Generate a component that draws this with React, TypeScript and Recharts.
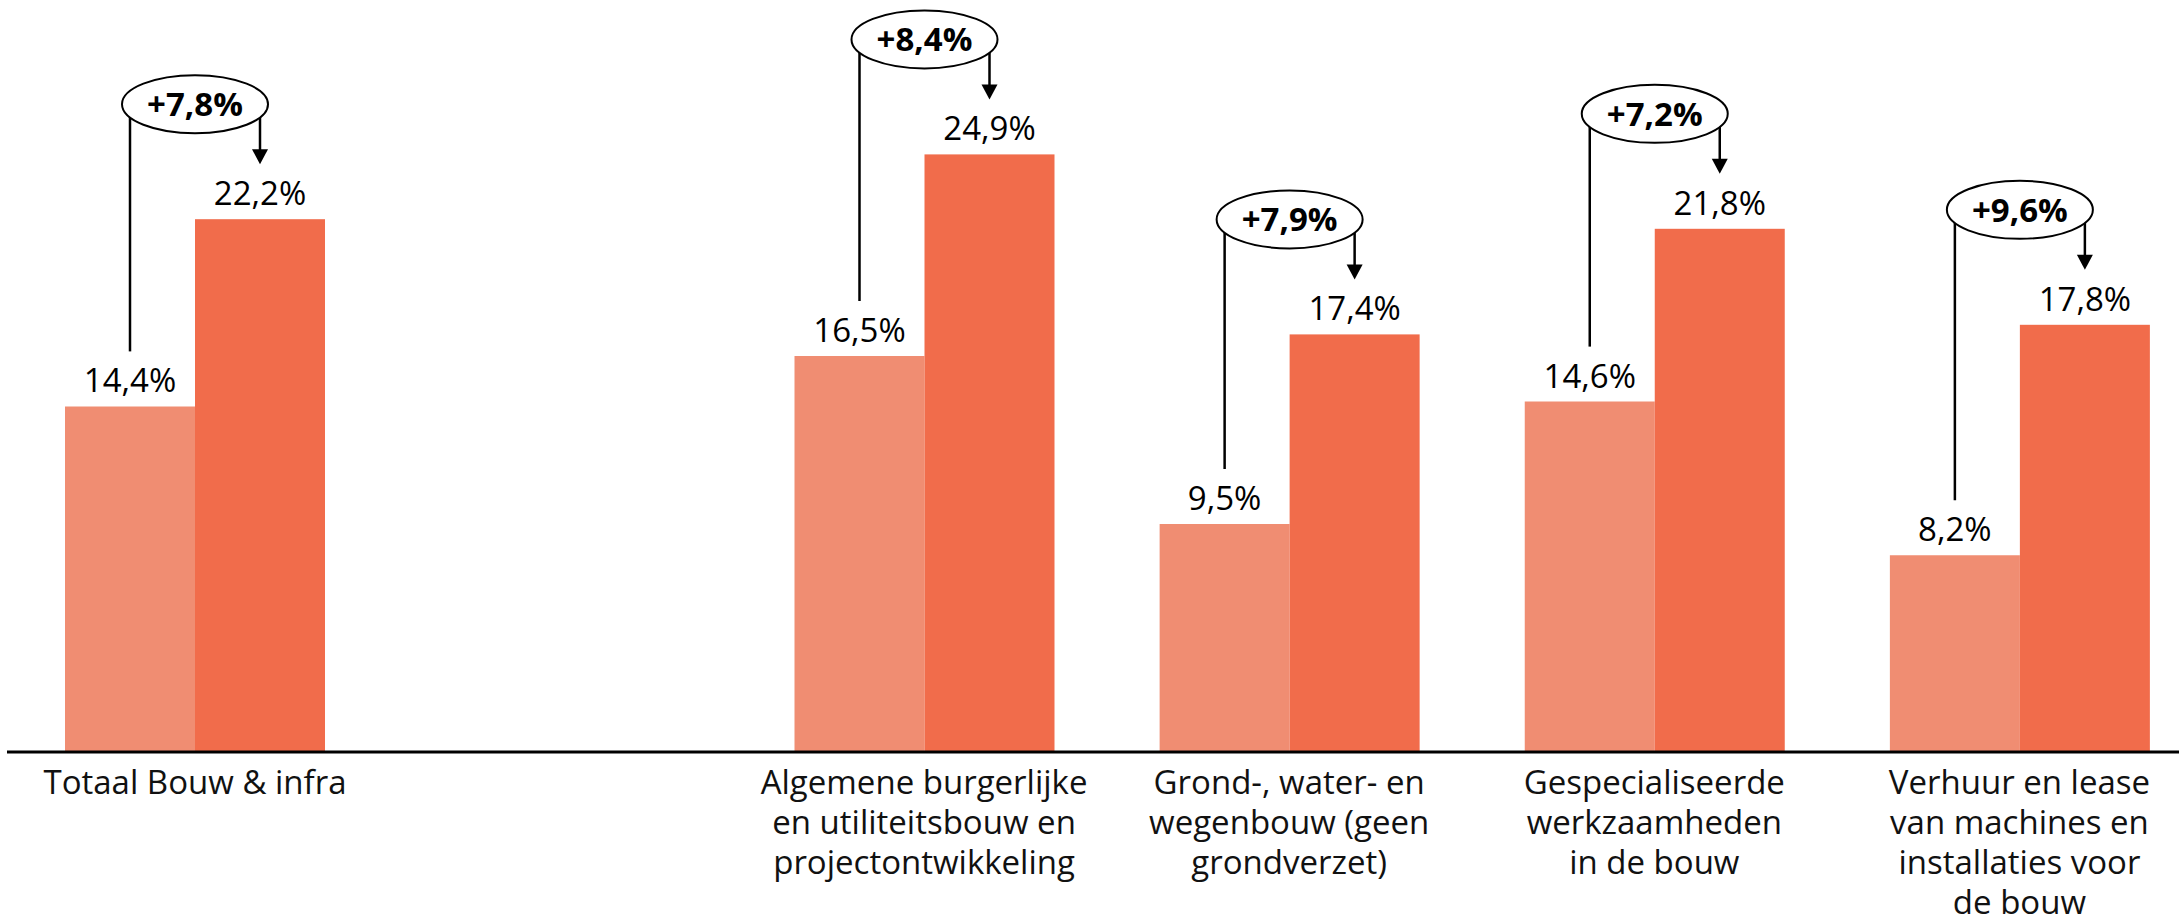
import React from 'react';
import { BarChart, Bar, XAxis, YAxis, LabelList } from 'recharts';

const categories = [
  'Totaal Bouw & infra',
  'Algemene burgerlijke\nen utiliteitsbouw en\nprojectontwikkeling',
  'Grond-, water- en\nwegenbouw (geen\ngrondverzet)',
  'Gespecialiseerde\nwerkzaamheden\nin de bouw',
  'Verhuur en lease\nvan machines en\ninstallaties voor\nde bouw',
];
const before = [14.4, 16.5, 9.5, 14.6, 8.2];
const after = [22.2, 24.9, 17.4, 21.8, 17.8];

const LIGHT = '#F08D72';
const DARK = '#F16C4B';
const FONT = '"Open Sans", sans-serif';

const rows = categories.map((name, i) => ({ name, before: before[i], after: after[i] }));

const fmt = (v: number) => v.toFixed(1).replace('.', ',') + '%';

const CategoryTick = (props: any) => {
  const { x, y, payload } = props;
  const lines = String(payload.value).split('\n');
  return (
    <text x={x} y={y + 42} textAnchor="middle" fontFamily={FONT} fontSize={33} fill="#111">
      {lines.map((l, i) => (
        <tspan key={i} x={x} dy={i === 0 ? 0 : 40}>
          {l}
        </tspan>
      ))}
    </text>
  );
};

// dark bar + the "+x,x%" bubble with its two connector lines
const DarkBar = (props: any) => {
  const { x, y, width, height, payload, fill } = props;
  const base = y + height;
  const unit = height / payload.after;
  const lightTop = base - payload.before * unit;
  const cy = y - 115;
  const leftX = x - width / 2;
  const rightX = x + width / 2;
  const tipY = y - 55;
  return (
    <g>
      <rect x={x} y={y} width={width} height={height} fill={fill} />
      <line x1={leftX} y1={cy} x2={leftX} y2={lightTop - 55} stroke="#000" strokeWidth={2.5} />
      <line x1={rightX} y1={cy} x2={rightX} y2={tipY - 12} stroke="#000" strokeWidth={2.5} />
      <polygon
        points={`${rightX - 8},${tipY - 15} ${rightX + 8},${tipY - 15} ${rightX},${tipY}`}
        fill="#000"
      />
      <ellipse cx={x} cy={cy} rx={73} ry={29} fill="#fff" stroke="#000" strokeWidth={2} />
      <text
        x={x}
        y={cy + 12}
        textAnchor="middle"
        fontFamily={FONT}
        fontWeight={700}
        fontSize={33}
        fill="#000"
      >
        +{fmt(payload.after - payload.before)}
      </text>
    </g>
  );
};

const Chart = ({ data, width, left, padLeft }: any) => (
  <BarChart
    width={width}
    height={919}
    data={data}
    margin={{ top: 32, right: 0, bottom: 17, left }}
    barGap={0}
  >
    <XAxis
      dataKey="name"
      height={150}
      axisLine={{ stroke: '#000', strokeWidth: 3 }}
      tickLine={false}
      tickSize={0}
      tickMargin={0}
      interval={0}
      tick={<CategoryTick />}
      padding={{ left: padLeft, right: 0 }}
    />
    <YAxis hide domain={[0, 30]} />
    <Bar dataKey="before" fill={LIGHT} barSize={130} isAnimationActive={false}>
      <LabelList
        dataKey="before"
        position="top"
        offset={14}
        formatter={fmt as any}
        fill="#000"
        fontSize={33}
        fontFamily={FONT}
      />
    </Bar>
    <Bar dataKey="after" fill={DARK} barSize={130} isAnimationActive={false} shape={<DarkBar />}>
      <LabelList
        dataKey="after"
        position="top"
        offset={14}
        formatter={fmt as any}
        fill="#000"
        fontSize={33}
        fontFamily={FONT}
      />
    </Bar>
  </BarChart>
);

export default function App() {
  return (
    <div
      style={{
        position: 'fixed',
        left: 0,
        top: 0,
        width: 2179,
        height: 919,
        overflow: 'hidden',
        background: '#fff',
      }}
    >
      <div style={{ position: 'absolute', left: 0, top: 0 }}>
        <Chart data={rows.slice(0, 1)} width={383} left={7} padLeft={0} />
      </div>
      <div style={{ position: 'absolute', left: 383, top: 0 }}>
        <Chart data={rows.slice(1)} width={1819} left={0} padLeft={358.5} />
      </div>
    </div>
  );
}
